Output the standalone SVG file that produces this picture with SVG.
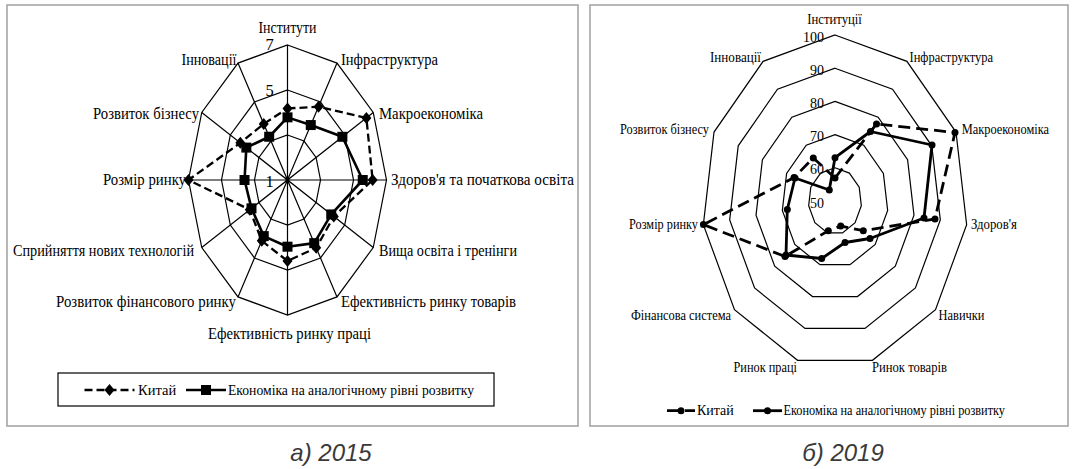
<svg xmlns="http://www.w3.org/2000/svg" xmlns:xlink="http://www.w3.org/1999/xlink" width="1074" height="469" viewBox="0 0 1074 469">
  <style>
    .frame { fill: #ffffff; stroke: #a6a6a6; stroke-width: 1.6; }
    .grid { fill: none; stroke: #000; stroke-width: 1.2; }
    .lbl { font-family: "Liberation Serif", "Times New Roman", serif; fill: #000; }
    .l16 { font-size: 16.5px; }
    .l14 { font-size: 14.5px; }
    .l13 { font-size: 14px; }
    .china-a { fill: none; stroke: #000; stroke-width: 2.3; stroke-dasharray: 8 4; stroke-linejoin: round; }
    .econ-a { fill: none; stroke: #000; stroke-width: 2.6; stroke-linejoin: round; }
    .china-b { fill: none; stroke: #000; stroke-width: 2.8; stroke-dasharray: 12 6; }
    .econ-b { fill: none; stroke: #000; stroke-width: 2.8; stroke-linejoin: round; }
    .caption { font-family: "Liberation Sans", Arial, sans-serif; font-style: italic; font-size: 24px; fill: #3a3a3a; }
  </style>
  <defs>
    <path id="dia" d="M0,-6 L5,0 L0,6 L-5,0 Z" fill="#000"/>
    <rect id="sq" x="-5" y="-5" width="10" height="10" fill="#000"/>
    <circle id="dot" r="3.5" fill="#000"/>
  </defs>

  <rect width="1074" height="469" fill="#fff"/>

  <!-- Panel a: 2015, twelve-axis radar -->
  <g id="panel-2015">
    <rect class="frame" x="7" y="5" width="571" height="421"/>
    <g id="grid-2015" class="grid">
      <polygon points="287.5,45 337,63.09 373.24,112.5 386.5,180 373.24,247.5 337,296.91 287.5,315 238,296.91 201.76,247.5 188.5,180 201.76,112.5 238,63.09"/>
      <polygon points="287.5,90 320.5,102.06 344.66,135 353.5,180 344.66,225 320.5,257.94 287.5,270 254.5,257.94 230.34,225 221.5,180 230.34,135 254.5,102.06"/>
      <polygon points="287.5,135 304,141.03 316.08,157.5 320.5,180 316.08,202.5 304,218.97 287.5,225 271,218.97 258.92,202.5 254.5,180 258.92,157.5 271,141.03"/>
      <path d="M287.5,45 V315 M337,63.09 L238,296.91 M373.24,112.5 L201.76,247.5 M386.5,180 H188.5 M373.24,247.5 L201.76,112.5 M337,296.91 L238,63.09"/>
    </g>
    <g id="scale-2015" class="lbl l16" text-anchor="middle">
      <text x="269.5" y="50">7</text>
      <text x="269.5" y="96">5</text>
      <text x="269.5" y="187">1</text>
    </g>
    <g id="axes-2015" class="lbl l16">
      <text x="287.5" y="33" text-anchor="middle" textLength="58" lengthAdjust="spacingAndGlyphs">Інститути</text>
      <text x="341" y="65" textLength="97" lengthAdjust="spacingAndGlyphs">Інфраструктура</text>
      <text x="379" y="119" textLength="104" lengthAdjust="spacingAndGlyphs">Макроекономіка</text>
      <text x="391" y="185" textLength="183" lengthAdjust="spacingAndGlyphs">Здоров'я та початкова освіта</text>
      <text x="379" y="256" textLength="138" lengthAdjust="spacingAndGlyphs">Вища освіта і тренінги</text>
      <text x="341" y="307" textLength="175" lengthAdjust="spacingAndGlyphs">Ефективність ринку товарів</text>
      <text x="208" y="339" textLength="163" lengthAdjust="spacingAndGlyphs">Ефективність ринку праці</text>
      <text x="56" y="307" textLength="180" lengthAdjust="spacingAndGlyphs">Розвиток фінансового ринку</text>
      <text x="13" y="256" textLength="181" lengthAdjust="spacingAndGlyphs">Сприйняття нових технологій</text>
      <text x="103" y="185" textLength="83" lengthAdjust="spacingAndGlyphs">Розмір ринку</text>
      <text x="93" y="119" textLength="106" lengthAdjust="spacingAndGlyphs">Розвиток бізнесу</text>
      <text x="181.5" y="65" textLength="55" lengthAdjust="spacingAndGlyphs">Інновації</text>
    </g>
    <g id="series-china-2015">
      <polygon class="china-a" points="287.5,108.45 318.54,106.7 366.38,117.9 372.64,180 333.8,216.45 316.21,247.81 287.5,261 261.76,240.79 249.77,209.7 188.5,180 240.34,142.87 263.74,123.88"/>
      <use xlink:href="#dia" x="287.5" y="108.45"/>
      <use xlink:href="#dia" x="318.54" y="106.7"/>
      <use xlink:href="#dia" x="366.38" y="117.9"/>
      <use xlink:href="#dia" x="372.64" y="180"/>
      <use xlink:href="#dia" x="333.8" y="216.45"/>
      <use xlink:href="#dia" x="316.21" y="247.81"/>
      <use xlink:href="#dia" x="287.5" y="261"/>
      <use xlink:href="#dia" x="261.76" y="240.79"/>
      <use xlink:href="#dia" x="249.77" y="209.7"/>
      <use xlink:href="#dia" x="188.5" y="180"/>
      <use xlink:href="#dia" x="240.34" y="142.87"/>
      <use xlink:href="#dia" x="263.74" y="123.88"/>
    </g>
    <g id="series-econ-2015">
      <polygon class="econ-a" points="287.5,117.36 310.77,125.05 342.37,136.8 362.74,180 331.23,214.43 314.23,243.13 287.5,246.69 263.74,236.12 251.49,208.35 244.53,180 246.34,147.6 269.18,136.74"/>
      <use xlink:href="#sq" x="287.5" y="117.36"/>
      <use xlink:href="#sq" x="310.77" y="125.05"/>
      <use xlink:href="#sq" x="342.37" y="136.8"/>
      <use xlink:href="#sq" x="362.74" y="180"/>
      <use xlink:href="#sq" x="331.23" y="214.43"/>
      <use xlink:href="#sq" x="314.23" y="243.13"/>
      <use xlink:href="#sq" x="287.5" y="246.69"/>
      <use xlink:href="#sq" x="263.74" y="236.12"/>
      <use xlink:href="#sq" x="251.49" y="208.35"/>
      <use xlink:href="#sq" x="244.53" y="180"/>
      <use xlink:href="#sq" x="246.34" y="147.6"/>
      <use xlink:href="#sq" x="269.18" y="136.74"/>
    </g>
    <g id="legend-2015">
      <rect x="58" y="373" width="436" height="33" fill="#fff" stroke="#000" stroke-width="1.2"/>
      <line class="china-a" x1="84.5" y1="390" x2="134.5" y2="390" stroke-dasharray="6 4"/>
      <use xlink:href="#dia" x="109.5" y="390"/>
      <text class="lbl l14" x="138" y="395">Китай</text>
      <line class="econ-a" x1="186" y1="390" x2="226" y2="390"/>
      <use xlink:href="#sq" x="206" y="390"/>
      <text class="lbl l14" x="228" y="395" textLength="246" lengthAdjust="spacingAndGlyphs">Економіка на аналогічному рівні розвитку</text>
    </g>
  </g>

  <!-- Panel b: 2019, eleven-axis radar, scale 50..100 -->
  <g id="panel-2019">
    <rect class="frame" x="590" y="5" width="478" height="421"/>
    <g id="grid-2019" class="grid">
      <polygon points="835,35 906.9,61.34 955.98,132.04 966.64,224.62 935.51,309.71 872.47,360.28 797.53,360.28 734.49,309.71 703.36,224.62 714.02,132.04 763.1,61.34"/>
      <polygon points="835,68.2 892.52,89.27 931.78,145.83 940.31,219.9 915.41,287.97 864.98,328.42 805.02,328.42 754.59,287.97 729.69,219.9 738.22,145.83 777.48,89.27"/>
      <polygon points="835,101.4 878.14,117.2 907.59,159.62 913.98,215.17 895.31,266.23 857.48,296.57 812.52,296.57 774.69,266.23 756.02,215.17 762.41,159.62 791.86,117.2"/>
      <polygon points="835,134.6 863.76,145.14 883.39,173.42 887.66,210.45 875.2,244.48 849.99,264.71 820.01,264.71 794.8,244.48 782.34,210.45 786.61,173.42 806.24,145.14"/>
      <polygon points="835,167.8 849.38,173.07 859.2,187.21 861.33,205.72 855.1,222.74 842.49,232.86 827.51,232.86 814.9,222.74 808.67,205.72 810.8,187.21 820.62,173.07"/>
    </g>
    <g id="scale-2019" class="lbl l13" text-anchor="end">
      <text x="824" y="41.5">100</text>
      <text x="824" y="74.7">90</text>
      <text x="824" y="107.9">80</text>
      <text x="824" y="141.1">70</text>
      <text x="824" y="174.3">60</text>
      <text x="824" y="207.5">50</text>
    </g>
    <g id="axes-2019" class="lbl l13">
      <text x="834.6" y="24" text-anchor="middle" textLength="54.5" lengthAdjust="spacingAndGlyphs">Інституції</text>
      <text x="909.5" y="62" textLength="83.5" lengthAdjust="spacingAndGlyphs">Інфраструктура</text>
      <text x="961.7" y="134" textLength="87.3" lengthAdjust="spacingAndGlyphs">Макроекономіка</text>
      <text x="971" y="229" textLength="46" lengthAdjust="spacingAndGlyphs">Здоров'я</text>
      <text x="938.5" y="320" textLength="46" lengthAdjust="spacingAndGlyphs">Навички</text>
      <text x="872" y="372" textLength="75" lengthAdjust="spacingAndGlyphs">Ринок товарів</text>
      <text x="733.5" y="372" textLength="63.5" lengthAdjust="spacingAndGlyphs">Ринок праці</text>
      <text x="631" y="320" textLength="100" lengthAdjust="spacingAndGlyphs">Фінансова система</text>
      <text x="629" y="229" textLength="69" lengthAdjust="spacingAndGlyphs">Розмір ринку</text>
      <text x="620" y="134" textLength="89" lengthAdjust="spacingAndGlyphs">Розвиток бізнесу</text>
      <text x="710" y="62" textLength="51" lengthAdjust="spacingAndGlyphs">Інновації</text>
    </g>
    <g id="series-china-2019">
      <polygon class="china-b" points="835,178 876.5,124 955,132.5 935,219 863.3,230.7 840.7,226 828.3,230.7 785,256.5 703.4,224.6 794,177.6 813.3,158"/>
      <use xlink:href="#dot" x="835" y="178"/>
      <use xlink:href="#dot" x="876.5" y="124"/>
      <use xlink:href="#dot" x="955" y="132.5"/>
      <use xlink:href="#dot" x="935" y="219"/>
      <use xlink:href="#dot" x="863.3" y="230.7"/>
      <use xlink:href="#dot" x="840.7" y="226"/>
      <use xlink:href="#dot" x="828.3" y="230.7"/>
      <use xlink:href="#dot" x="785" y="256.5"/>
      <use xlink:href="#dot" x="703.4" y="224.6"/>
      <use xlink:href="#dot" x="794" y="177.6"/>
      <use xlink:href="#dot" x="813.3" y="158"/>
    </g>
    <g id="series-econ-2019">
      <polygon class="econ-b" points="835,157.7 870.5,131.5 932,145 924,218 870,238.5 845,242.5 821.7,258.5 786,255 787.3,209.5 795,178 829.3,190"/>
      <use xlink:href="#dot" x="835" y="157.7"/>
      <use xlink:href="#dot" x="870.5" y="131.5"/>
      <use xlink:href="#dot" x="932" y="145"/>
      <use xlink:href="#dot" x="924" y="218"/>
      <use xlink:href="#dot" x="870" y="238.5"/>
      <use xlink:href="#dot" x="845" y="242.5"/>
      <use xlink:href="#dot" x="821.7" y="258.5"/>
      <use xlink:href="#dot" x="786" y="255"/>
      <use xlink:href="#dot" x="787.3" y="209.5"/>
      <use xlink:href="#dot" x="795" y="178"/>
      <use xlink:href="#dot" x="829.3" y="190"/>
    </g>
    <g id="legend-2019">
      <line class="china-b" x1="667" y1="410.7" x2="695" y2="410.7" stroke-dasharray="9 4"/>
      <use xlink:href="#dot" x="681" y="410.7"/>
      <text class="lbl l13" x="697" y="415">Китай</text>
      <line class="econ-b" x1="753" y1="410.7" x2="782" y2="410.7"/>
      <use xlink:href="#dot" x="767.5" y="410.7"/>
      <text class="lbl l13" x="783.5" y="415" textLength="221.5" lengthAdjust="spacingAndGlyphs">Економіка на аналогічному рівні розвитку</text>
    </g>
  </g>

  <!-- Captions -->
  <g id="captions" class="caption" text-anchor="middle">
    <text x="331" y="461">а) 2015</text>
    <text x="843" y="461">б) 2019</text>
  </g>
</svg>
